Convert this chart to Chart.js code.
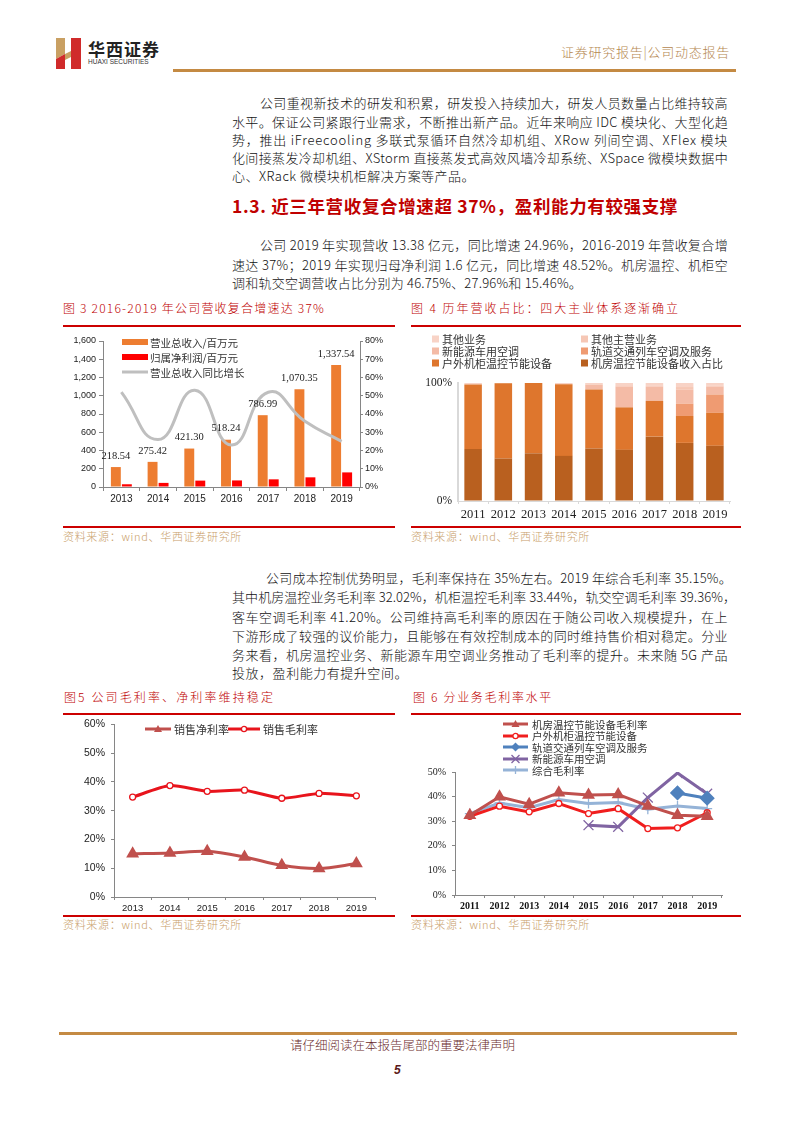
<!DOCTYPE html>
<html>
<head>
<meta charset="utf-8">
<script src="https://cdn.jsdelivr.net/npm/chart.js@4.4.1/dist/chart.umd.min.js"></script>
<style>
  body { margin: 0; background: #fff; }
  #page { position: relative; width: 793px; height: 1122px; overflow: hidden; font-family: "Noto Sans CJK SC", sans-serif; }
  .t { position: absolute; white-space: nowrap; font-weight: 300; }
  .lg { position: absolute; display: flex; align-items: center; white-space: nowrap; color: #333; height: 16px; }
  .rule { position: absolute; height: 2px; background: #CC0000; z-index: 2; }
  .gold { position: absolute; height: 3px; background: #C48A43; }
  canvas { position: absolute; }
</style>
</head>
<body>
<div id="page">
  <svg class="t" style="left:55px;top:37px" width="30" height="33">
    <polygon points="1,1 10,1 10,17 1,22" fill="#C9A063"/>
    <polygon points="1,22 10,17 10,32 1,32" fill="#D02B2B"/>
    <polygon points="10,17 16,14 16,20 10,23" fill="#C9A063"/>
    <rect x="16" y="1" width="10" height="31" fill="#D02B2B"/>
  </svg>
  <div class="t" style="left:88px;top:36px;font-size:17px;font-weight:bold;color:#222;letter-spacing:1px">华西证券</div>
  <div class="t" style="left:88px;top:58px;font-size:6.5px;font-family:'Liberation Sans';color:#333;font-weight:400">HUAXI SECURITIES</div>
  <div class="gold" style="left:173px;top:69px;width:563px"></div>
  <div class="gold" style="left:59px;top:1032px;width:678px"></div>

  <div class="rule" style="left:63px;top:325px;width:332px"></div>
  <div class="rule" style="left:411px;top:325px;width:330px"></div>
  <div class="rule" style="left:63px;top:526px;width:332px"></div>
  <div class="rule" style="left:411px;top:526px;width:330px"></div>
  <div class="rule" style="left:63px;top:713px;width:332px"></div>
  <div class="rule" style="left:411px;top:713px;width:330px"></div>
  <div class="rule" style="left:63px;top:915px;width:332px"></div>
  <div class="rule" style="left:411px;top:915px;width:330px"></div>

  <canvas id="c1" style="left:63px;top:328px" width="332" height="195"></canvas>
  <canvas id="c2" style="left:411px;top:370px" width="330" height="150"></canvas>
  <canvas id="c3" style="left:63px;top:712px" width="332" height="202"></canvas>
  <canvas id="c4" style="left:411px;top:712px" width="330" height="202"></canvas>
</div>

<script>
/* Fig 3 — revenue / net profit / growth */
const REV_YEARS = ["2013", "2014", "2015", "2016", "2017", "2018", "2019"];
const REV_SERIES = ["营业总收入/百万元", "归属净利润/百万元", "营业总收入同比增长"];
const REVENUE = [218.54, 275.42, 421.30, 518.24, 786.99, 1070.35, 1337.54];
const NET_PROFIT = [30, 45, 70, 72, 84, 106, 160];
const REV_GROWTH = [52.0, 26.0, 53.0, 23.0, 51.9, 36.0, 25.0];

/* Fig 4 — revenue share by business (%) */
const SHARE_YEARS = ["2011", "2012", "2013", "2014", "2015", "2016", "2017", "2018", "2019"];
const SHARE_SERIES = ["机房温控节能设备收入占比", "户外机柜温控节能设备", "轨道交通列车空调及服务", "新能源车用空调", "其他主营业务", "其他业务"];
const SHARE_IDC = [44.1, 36.0, 40.4, 38.2, 44.4, 43.3, 54.5, 49.2, 46.75];
const SHARE_CABINET = [54.5, 63.7, 59.6, 60.7, 50.0, 36.0, 30.3, 22.8, 27.96];
const SHARE_RAIL = [0, 0, 0, 0, 0, 0, 0, 10.4, 15.46];
const SHARE_NEV = [0, 0, 0, 0, 4.2, 17.7, 12.1, 12.1, 6.7];
const SHARE_MAIN_OTHER = [0, 0, 0, 0, 0, 1.0, 1.0, 2.0, 1.0];
const SHARE_OTHER = [1.4, 0.3, 0, 1.1, 1.4, 2.0, 2.1, 3.5, 2.1];

/* Fig 5 — gross / net margin (%) */
const MARGIN_YEARS = ["2013", "2014", "2015", "2016", "2017", "2018", "2019"];
const MARGIN_SERIES = ["销售净利率", "销售毛利率"];
const NET_MARGIN = [15.0, 15.3, 15.9, 13.9, 11.0, 9.9, 11.6];
const GROSS_MARGIN = [34.7, 38.7, 36.7, 37.1, 34.3, 36.0, 35.15];

/* Fig 6 — gross margin by business (%) */
const SEG_YEARS = ["2011", "2012", "2013", "2014", "2015", "2016", "2017", "2018", "2019"];
const SEG_SERIES = ["机房温控节能设备毛利率", "户外机柜温控节能设备", "轨道交通列车空调及服务", "新能源车用空调", "综合毛利率"];
const SEG_IDC = [32.4, 39.9, 36.9, 41.6, 40.7, 40.9, 36.2, 32.4, 32.02];
const SEG_CABINET = [32.0, 36.1, 33.8, 37.2, 33.1, 35.1, 27.0, 27.3, 33.44];
const SEG_RAIL = [null, null, null, null, null, null, null, 41.5, 39.36];
const SEG_NEV = [null, null, null, null, 28.4, 27.7, 39.6, 49.6, 41.2];
const SEG_TOTAL = [33.1, 37.4, 35.5, 38.8, 37.2, 37.6, 34.9, 36.2, 35.15];

/* page text: [text, x, yCenter, width, size, color, bold] */
const BODY = "#111", RED = "#C00000", SRC = "#C9A06A";
const TEXT_LINES = [
    ["证券研究报告|公司动态报告", 561, 52, 169, 13, "#B5874F"],
    ["公司重视新技术的研发和积累，研发投入持续加大，研发人员数量占比维持较高", 260, 103, 468, 13, BODY],
    ["水平。保证公司紧跟行业需求，不断推出新产品。近年来响应 IDC 模块化、大型化趋", 232, 122, 496, 13, BODY],
    ["势，推出 iFreecooling 多联式泵循环自然冷却机组、XRow 列间空调、XFlex 模块", 232, 140, 496, 13, BODY],
    ["化间接蒸发冷却机组、XStorm 直接蒸发式高效风墙冷却系统、XSpace 微模块数据中", 232, 158, 496, 13, BODY],
    ["心、XRack 微模块机柜解决方案等产品。", 232, 176, 243, 13, BODY],
    ["1.3. 近三年营收复合增速超 37%，盈利能力有较强支撑", 232, 206, 446, 17.5, RED, true],
    ["公司 2019 年实现营收 13.38 亿元，同比增速 24.96%，2016-2019 年营收复合增", 260, 245, 468, 13, BODY],
    ["速达 37%；2019 年实现归母净利润 1.6 亿元，同比增速 48.52%。机房温控、机柜空", 232, 265, 496, 13, BODY],
    ["调和轨交空调营收占比分别为 46.75%、27.96%和 15.46%。", 232, 283, 350, 13, BODY],
    ["图 3 2016-2019 年公司营收复合增速达 37%", 63, 308, 262, 12, RED],
    ["图 4 历年营收占比：四大主业体系逐渐确立", 411, 308, 269, 12, RED],
    ["资料来源：wind、华西证券研究所", 63, 537, 179, 11, SRC],
    ["资料来源：wind、华西证券研究所", 411, 537, 179, 11, SRC],
    ["公司成本控制优势明显，毛利率保持在 35%左右。2019 年综合毛利率 35.15%。", 266, 578, 466, 13, BODY],
    ["其中机房温控业务毛利率 32.02%，机柜温控毛利率 33.44%，轨交空调毛利率 39.36%，", 232, 597, 504, 13, BODY],
    ["客车空调毛利率 41.20%。公司维持高毛利率的原因在于随公司收入规模提升，在上", 232, 617, 496, 13, BODY],
    ["下游形成了较强的议价能力，且能够在有效控制成本的同时维持售价相对稳定。分业", 232, 636, 496, 13, BODY],
    ["务来看，机房温控业务、新能源车用空调业务推动了毛利率的提升。未来随 5G 产品", 232, 655, 496, 13, BODY],
    ["投放，盈利能力有提升空间。", 232, 673, 176, 13, BODY],
    ["图5 公司毛利率、净利率维持稳定", 64, 697, 211, 12, RED],
    ["图 6 分业务毛利率水平", 413, 697, 140, 12, RED],
    ["资料来源：wind、华西证券研究所", 63, 925, 179, 11, SRC],
    ["资料来源：wind、华西证券研究所", 411, 925, 179, 11, SRC],
    ["请仔细阅读在本报告尾部的重要法律声明", 290, 1045, 225, 12.5, "#6B2B2B"],
];

const page = document.getElementById("page");

TEXT_LINES.forEach(([text, x, y, w, size, color, bold]) => {
    const d = document.createElement("div");
    d.className = "t";
    d.style.left = x + "px";
    d.style.top = (y - size * 0.7) + "px";
    d.style.fontSize = size + "px";
    d.style.lineHeight = (size * 1.4) + "px";
    d.style.color = color;
    if (bold) d.style.fontWeight = "bold";
    const s = document.createElement("span");
    s.textContent = text;
    s.dataset.w = w;
    d.appendChild(s);
    page.appendChild(d);
});

const num = document.createElement("div");
num.className = "t";
num.style.cssText = "left:394px;top:1063px;font:bold italic 12px 'Liberation Sans';color:#5B1A1A";
num.textContent = "5";
page.appendChild(num);

function fitText() {
    document.querySelectorAll(".t span").forEach((s) => {
        const n = [...s.textContent].length;
        const w = s.getBoundingClientRect().width;
        s.style.letterSpacing = ((+s.dataset.w - w) / n) + "px";
    });
}
document.fonts.ready.then(fitText);

/* legend swatches, drawn as small svgs */
function marker(kind, color, cx, cy) {
    if (kind === "triangle") return `<polygon points="${cx},${cy - 4} ${cx + 4},${cy + 3} ${cx - 4},${cy + 3}" fill="${color}"/>`;
    if (kind === "circle") return `<circle cx="${cx}" cy="${cy}" r="2.6" fill="#fff" stroke="${color}" stroke-width="1.3"/>`;
    if (kind === "diamond") return `<polygon points="${cx},${cy - 4.5} ${cx + 4.5},${cy} ${cx},${cy + 4.5} ${cx - 4.5},${cy}" fill="${color}"/>`;
    if (kind === "x") return `<path d="M${cx - 4},${cy - 4}L${cx + 4},${cy + 4}M${cx + 4},${cy - 4}L${cx - 4},${cy + 4}" stroke="${color}" stroke-width="1.3"/>`;
    if (kind === "plus") return `<path d="M${cx},${cy - 4}L${cx},${cy + 4}M${cx - 4},${cy}L${cx + 4},${cy}" stroke="${color}" stroke-width="1.3"/>`;
    return "";
}

function swatch(item, w) {
    const h = 12, cy = 6;
    let s = `<svg width="${w}" height="${h}">`;
    if (item.sym === "bar") s += `<rect x="0" y="${cy - 3}" width="${w}" height="6" fill="${item.color}"/>`;
    if (item.sym === "sq") s += `<rect x="0" y="${cy - 3.5}" width="7" height="7" fill="${item.color}"/>`;
    if (item.sym === "line") {
        s += `<line x1="0" y1="${cy}" x2="${w}" y2="${cy}" stroke="${item.color}" stroke-width="3"/>`;
        s += marker(item.marker, item.color, w / 2, cy);
    }
    return s + "</svg>";
}

function legendItem(x, y, w, gap, size, item) {
    const d = document.createElement("div");
    d.className = "lg";
    d.style.left = x + "px";
    d.style.top = (y - 8) + "px";
    d.style.fontSize = size + "px";
    d.innerHTML = swatch(item, w) + `<span style="margin-left:${gap}px">${item.label}</span>`;
    page.appendChild(d);
}

const C_REV = "#ED7D31", C_NP = "#FF0000", C_GROW = "#BFBFBF";
const C_SHARE = ["#B9601F", "#DE762D", "#EF9B72", "#F4BBA6", "#F6C7B5", "#F8D3C6"];
const C_NETM = "#C0504D", C_GROSSM = "#E8141C";
const C_SEG = ["#C0504D", "#F01E1E", "#4F81BD", "#8064A2", "#95B3D7"];

legendItem(122, 342, 26, 2, 10.5, { sym: "bar", color: C_REV, label: REV_SERIES[0] });
legendItem(122, 357, 26, 2, 10.5, { sym: "bar", color: C_NP, label: REV_SERIES[1] });
legendItem(122, 372, 26, 2, 10.5, { sym: "line", color: C_GROW, label: REV_SERIES[2] });

legendItem(432, 339, 7, 3, 11, { sym: "sq", color: C_SHARE[5], label: "其他业务" });
legendItem(581, 339, 7, 3, 11, { sym: "sq", color: C_SHARE[4], label: SHARE_SERIES[4] });
legendItem(432, 351, 7, 3, 11, { sym: "sq", color: C_SHARE[3], label: SHARE_SERIES[3] });
legendItem(581, 351, 7, 3, 11, { sym: "sq", color: C_SHARE[2], label: SHARE_SERIES[2] });
legendItem(432, 363, 7, 3, 11, { sym: "sq", color: C_SHARE[1], label: SHARE_SERIES[1] });
legendItem(581, 363, 7, 3, 11, { sym: "sq", color: C_SHARE[0], label: SHARE_SERIES[0] });

legendItem(145, 729, 26, 3, 11, { sym: "line", color: C_NETM, marker: "triangle", label: MARGIN_SERIES[0] });
legendItem(228, 729, 32, 3, 11, { sym: "line", color: C_GROSSM, marker: "circle", label: MARGIN_SERIES[1] });

const SEG_MARKERS = ["triangle", "circle", "diamond", "x", "plus"];
SEG_SERIES.forEach((lab, i) => {
    legendItem(503, 724 + i * 11.5, 25, 4, 10.5, { sym: "line", color: C_SEG[i], marker: SEG_MARKERS[i], label: lab });
});

/* charts */
Chart.defaults.animation = false;
Chart.defaults.font.family = "'Liberation Sans', Arial, sans-serif";
Chart.defaults.color = "#222";
Chart.defaults.plugins.legend.display = false;
Chart.defaults.plugins.tooltip.enabled = false;

const AX = "#868686";
const SERIF = "'Liberation Serif', 'Times New Roman', serif";

const revLabels = {
    id: "revLabels",
    afterDatasetsDraw(chart) {
        const ctx = chart.ctx;
        ctx.save();
        ctx.font = "10.5px " + SERIF;
        ctx.fillStyle = "#222";
        ctx.textAlign = "center";
        ctx.textBaseline = "middle";
        chart.getDatasetMeta(0).data.forEach((bar, i) => {
            const v = REVENUE[i].toLocaleString("en-US", { minimumFractionDigits: 2 });
            ctx.fillText(v, bar.x, bar.y - 11);
        });
        ctx.restore();
    },
};

new Chart(document.getElementById("c1"), {
    type: "bar",
    data: {
        labels: REV_YEARS,
        datasets: [
            { label: REV_SERIES[0], data: REVENUE, backgroundColor: C_REV, categoryPercentage: 0.6, barPercentage: 0.9, order: 1 },
            { label: REV_SERIES[1], data: NET_PROFIT, backgroundColor: C_NP, categoryPercentage: 0.6, barPercentage: 0.9, order: 1 },
            { type: "line", label: REV_SERIES[2], data: REV_GROWTH, yAxisID: "y1", borderColor: C_GROW, borderWidth: 3, tension: 0.5, pointRadius: 0, order: 0 },
        ],
    },
    options: {
        responsive: false,
        layout: { padding: { top: 13 } },
        scales: {
            x: {
                grid: { drawOnChartArea: false, tickLength: 4, color: AX },
                border: { color: AX },
                ticks: { font: { size: 10 }, padding: 2, maxRotation: 0 },
                afterFit: (s) => { s.height = 36; },
            },
            y: {
                min: 0, max: 1600,
                grid: { drawOnChartArea: false, tickLength: 4, color: AX },
                border: { color: AX },
                ticks: { stepSize: 200, font: { size: 9 }, padding: 3, callback: (v) => v.toLocaleString("en-US") },
                afterFit: (s) => { s.width = 40; },
            },
            y1: {
                position: "right", min: 0, max: 80,
                grid: { drawOnChartArea: false, tickLength: 3, color: AX },
                border: { color: AX },
                ticks: { stepSize: 10, font: { size: 9 }, padding: 2, callback: (v) => v + "%" },
                afterFit: (s) => { s.width = 35; },
            },
        },
    },
    plugins: [revLabels],
});

const shareData = [SHARE_IDC, SHARE_CABINET, SHARE_RAIL, SHARE_NEV, SHARE_MAIN_OTHER, SHARE_OTHER];
new Chart(document.getElementById("c2"), {
    type: "bar",
    data: {
        labels: SHARE_YEARS,
        datasets: shareData.map((d, i) => ({
            label: SHARE_SERIES[i], data: d, backgroundColor: C_SHARE[i], barPercentage: 0.58, categoryPercentage: 1,
        })),
    },
    options: {
        responsive: false,
        layout: { padding: { top: 12, right: 11 } },
        scales: {
            x: {
                stacked: true,
                grid: { drawOnChartArea: false, tickLength: 3, color: "#D9D9D9" },
                border: { color: "#D9D9D9" },
                ticks: { font: { size: 12.5, family: SERIF }, padding: 3, maxRotation: 0 },
                afterFit: (s) => { s.height = 19; },
            },
            y: {
                stacked: true, min: 0, max: 100,
                grid: { drawOnChartArea: false, drawTicks: false, color: "#D9D9D9" },
                border: { color: "#D9D9D9", width: 2 },
                ticks: { stepSize: 100, font: { size: 11.5, family: SERIF }, padding: 6, callback: (v) => v + "%" },
                afterFit: (s) => { s.width = 47; },
            },
        },
    },
});

new Chart(document.getElementById("c3"), {
    type: "line",
    data: {
        labels: MARGIN_YEARS,
        datasets: [
            { label: MARGIN_SERIES[0], data: NET_MARGIN, borderColor: C_NETM, backgroundColor: C_NETM, borderWidth: 3, tension: 0.3,
              pointStyle: "triangle", pointRadius: 4.5 },
            { label: MARGIN_SERIES[1], data: GROSS_MARGIN, borderColor: C_GROSSM, borderWidth: 3, tension: 0.2,
              pointStyle: "circle", pointRadius: 3, pointBackgroundColor: "#fff", pointBorderColor: C_GROSSM, pointBorderWidth: 1.3 },
        ],
    },
    options: {
        responsive: false,
        layout: { padding: { top: 10, right: 20 } },
        scales: {
            x: {
                offset: true,
                grid: { offset: true, drawOnChartArea: false, tickLength: 3, color: AX },
                border: { color: AX },
                ticks: { font: { size: 9.5 }, padding: 3, maxRotation: 0 },
                afterFit: (s) => { s.height = 17; },
            },
            y: {
                min: 0, max: 60,
                grid: { drawOnChartArea: false, tickLength: 3, color: AX },
                border: { color: AX },
                ticks: { stepSize: 10, font: { size: 10.5 }, padding: 6, callback: (v) => v + "%" },
                afterFit: (s) => { s.width = 51; },
            },
        },
    },
});

const segData = [SEG_IDC, SEG_CABINET, SEG_RAIL, SEG_NEV, SEG_TOTAL];
const segPoint = [
    { pointStyle: "triangle", pointRadius: 4.5 },
    { pointStyle: "circle", pointRadius: 3, pointBackgroundColor: "#fff", pointBorderWidth: 1.3 },
    { pointStyle: "rectRot", pointRadius: 5.5 },
    { pointStyle: "crossRot", pointRadius: 7, pointBorderWidth: 1.3 },
    { pointStyle: "cross", pointRadius: 5, pointBorderWidth: 1.3 },
];
new Chart(document.getElementById("c4"), {
    type: "line",
    data: {
        labels: SEG_YEARS,
        datasets: segData.map((d, i) => Object.assign({
            label: SEG_SERIES[i], data: d, borderColor: C_SEG[i], backgroundColor: C_SEG[i],
            pointBorderColor: C_SEG[i], borderWidth: 3, tension: 0, spanGaps: false,
        }, segPoint[i])),
    },
    options: {
        responsive: false,
        layout: { padding: { top: 60, right: 19 } },
        scales: {
            x: {
                offset: true,
                grid: { offset: true, drawOnChartArea: false, tickLength: 3, color: AX },
                border: { color: AX },
                ticks: { font: { size: 10, family: SERIF, weight: "bold" }, padding: 2, maxRotation: 0, color: "#111" },
                afterFit: (s) => { s.height = 19; },
            },
            y: {
                min: 0, max: 50,
                grid: { drawOnChartArea: false, tickLength: 3, color: AX },
                border: { color: AX },
                ticks: { stepSize: 10, font: { size: 10, family: SERIF }, padding: 6, callback: (v) => v + "%" },
                afterFit: (s) => { s.width = 44; },
            },
        },
    },
});
</script>
</body>
</html>
